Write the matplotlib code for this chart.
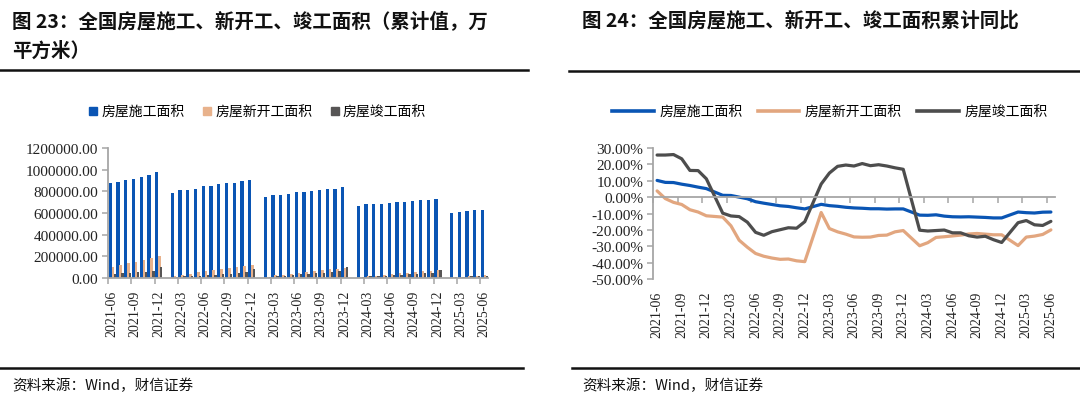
import numpy as np
import pandas as pd
import matplotlib
matplotlib.use("Agg")
import matplotlib.pyplot as plt
from matplotlib.lines import Line2D

plt.rcParams['font.family'] = ['Noto Sans CJK SC', 'DejaVu Sans']

nan = np.nan

# ---------------- data ----------------
months = list(pd.period_range('2021-06', '2025-06', freq='M').strftime('%Y-%m'))
tick_labels = ["2021-06", "2021-09", "2021-12", "2022-03", "2022-06", "2022-09",
               "2022-12", "2023-03", "2023-06", "2023-09", "2023-12", "2024-03",
               "2024-06", "2024-09", "2024-12", "2025-03", "2025-06"]
series_names = ["房屋施工面积", "房屋新开工面积", "房屋竣工面积"]

# cumulative area, 10k m2 (January not published)
construction = [873251, 890000, 904000, 917000, 931000, 947000, 975387,
                nan, 782000, 808000, 812000, 826000, 848000, 853000, 864000, 878000, 881000, 891000, 904999,
                nan, 751000, 764000, 767000, 777000, 791548, 794000, 804000, 815688, 820000, 826000, 838364,
                nan, 668000, 680000, 682000, 685000, 695000, 698000, 703000, 710000, 716000, 721000, 733247,
                nan, 600000, 612000, 614000, 625000, 627000]
new_starts = [101288, 117000, 134000, 148000, 162000, 182000, 198895,
              nan, 17000, 29638, 39000, 51000, 66423, 76000, 85000, 94767, 103000, 111000, 120587,
              nan, 13000, 24000, 31000, 39000, 49880, 56000, 63000, 72123, 79000, 86000, 95376,
              nan, 9429, 17000, 23000, 30000, 38023, 43000, 49000, 56051, 61000, 66000, 73893,
              nan, 6500, 13000, 18000, 23000, 30364]
completed = [36000, 42000, 47000, 51000, 56000, 65000, 101412,
             nan, 12000, 17000, 20000, 23000, 28000, 32000, 36000, 41000, 46000, 52000, 86222,
             nan, 13000, 19000, 23000, 27000, 33000, 38000, 43000, 48705, 55000, 62000, 99831,
             nan, 10000, 15000, 18000, 22000, 26000, 30000, 33000, 36000, 42000, 46000, 73743,
             nan, 8000, 13000, 15000, 18000, 22567]

# cumulative YoY, %
construction_yoy = [10.2, 9.0, 8.9, 7.9, 7.1, 6.1, 5.2,
                    nan, 1.1, 1.0, 0.0, -1.0, -2.8, -3.7, -4.5, -5.3, -5.7, -6.5, -7.2,
                    nan, -4.4, -5.2, -5.6, -6.2, -6.6, -6.8, -7.1, -7.1, -7.3, -7.2, -7.2,
                    nan, -11.0, -11.1, -10.8, -11.6, -12.0, -12.1, -12.0, -12.2, -12.4, -12.7, -12.7,
                    nan, -9.1, -9.5, -9.7, -9.2, -9.1]
new_starts_yoy = [3.8, -0.9, -3.2, -4.5, -7.7, -9.1, -11.4,
                  nan, -12.2, -17.5, -26.3, -30.6, -34.4, -36.1, -37.2, -38.0, -37.8, -38.9, -39.4,
                  nan, -9.4, -19.2, -21.2, -22.6, -24.3, -24.5, -24.4, -23.4, -23.2, -21.2, -20.4,
                  nan, -29.7, -27.8, -24.6, -24.2, -23.7, -23.2, -22.5, -22.2, -22.6, -23.0, -23.0,
                  nan, -29.6, -24.4, -23.8, -22.8, -20.0]
completed_yoy = [25.7, 25.7, 26.0, 23.4, 16.3, 16.2, 11.2,
                 nan, -9.8, -11.5, -11.9, -15.3, -21.5, -23.3, -21.1, -19.9, -18.7, -19.0, -15.0,
                 nan, 8.0, 14.7, 18.8, 19.6, 19.0, 20.5, 19.2, 19.8, 19.0, 17.9, 17.0,
                 nan, -20.2, -20.7, -20.4, -20.1, -21.8, -21.8, -23.6, -24.4, -23.9, -26.0, -27.7,
                 nan, -15.6, -14.3, -16.9, -17.3, -14.8]

# ---------------- style ----------------
BLUE = '#0a55b4'
TAN = '#e8b28c'
TAN_LINE = '#e2a67f'
DARK = '#575555'
DARK_LINE = '#4d4d4d'
AXC = '#a6a6a6'
SERIF = 'Liberation Serif'
TXT = '#222222'

W, H = 1080, 414
fig = plt.figure(figsize=(W / 100, H / 100), dpi=100)


def fx(px):
    return px / W


def fy(py):
    return 1 - py / H


n = len(months)
x = np.arange(n)
major = np.array([months.index(t) for t in tick_labels])
minor = major - 0.5

# ---------------- left: bars ----------------
axh1 = 130
ax1 = fig.add_axes([fx(108), fy(279), fx(380), axh1 / H])
ax1.bar(x - 0.22, np.array(construction, float), 0.42, color=BLUE, label=series_names[0])
ax1.bar(x + 0.13, np.array(new_starts, float), 0.34, color=TAN, label=series_names[1])
ax1.bar(x + 0.36, np.array(completed, float), 0.30, color=DARK, label=series_names[2])
ax1.set_xlim(-0.5, n - 0.5)
ax1.set_ylim(0, 1200000)
yt1 = np.arange(0, 1200001, 200000)
ax1.set_yticks(yt1, [f"{v:.2f}" for v in yt1])
ax1.set_xticks(major, tick_labels, rotation=90)
ax1.set_xticks(minor, minor=True)
for s in ['top', 'right']:
    ax1.spines[s].set_visible(False)
for s in ['left', 'bottom']:
    ax1.spines[s].set_color(AXC)
    ax1.spines[s].set_linewidth(1.3)
ax1.tick_params(axis='x', which='major', length=0, pad=8.5, labelsize=10,
                labelfontfamily=SERIF, labelcolor=TXT)
ax1.tick_params(axis='x', which='minor', length=4, width=1.1, color=AXC, direction='out')
ax1.tick_params(axis='y', length=4, width=1.1, color=AXC, pad=3, labelsize=11,
                labelfontfamily=SERIF, labelcolor=TXT)

h1 = [Line2D([], [], marker='s', ls='none', color=c, markersize=5.5) for c in (BLUE, TAN, DARK)]
fig.legend(h1, series_names, loc='center left', bbox_to_anchor=(fx(89), fy(113)),
           ncol=3, frameon=False, fontsize=10, handlelength=0.6, handletextpad=0.3,
           columnspacing=1.3, borderpad=0, borderaxespad=0)

# ---------------- right: lines ----------------
axh2 = 131
ax2 = fig.add_axes([fx(653), fy(280), fx(402), axh2 / H])
ax2.spines['bottom'].set_position(('data', 0))
for vals, c, name in ((construction_yoy, BLUE, series_names[0]),
                      (new_starts_yoy, TAN_LINE, series_names[1]),
                      (completed_yoy, DARK_LINE, series_names[2])):
    v = np.array(vals, float)
    m = np.isfinite(v)
    ax2.plot(x[m], v[m], color=c, lw=2.3, solid_joinstyle='round', solid_capstyle='round', label=name)
ax2.set_xlim(-0.5, n - 0.5)
ax2.set_ylim(-50, 30)
yt2 = np.arange(-50, 31, 10)
ax2.set_yticks(yt2, [f"{v:.2f}%" for v in yt2])
ax2.set_xticks(major, tick_labels, rotation=90)
ax2.set_xticks(minor, minor=True)
for s in ['top', 'right']:
    ax2.spines[s].set_visible(False)
for s in ['left', 'bottom']:
    ax2.spines[s].set_color(AXC)
    ax2.spines[s].set_linewidth(1.3)
pad2 = (50 / 80 * axh2 + 11.5) * 72 / 100
ax2.tick_params(axis='x', which='major', length=0, pad=pad2, labelsize=10,
                labelfontfamily=SERIF, labelcolor=TXT)
ax2.tick_params(axis='x', which='minor', length=4, width=1.1, color=AXC, direction='out')
ax2.tick_params(axis='y', length=4, width=1.1, color=AXC, pad=3, labelsize=11,
                labelfontfamily=SERIF, labelcolor=TXT)

h2 = [Line2D([], [], color=c, lw=2.6) for c in (BLUE, TAN_LINE, DARK_LINE)]
fig.legend(h2, series_names, loc='center left', bbox_to_anchor=(fx(612), fy(113)),
           ncol=3, frameon=False, fontsize=10, handlelength=3.0, handletextpad=0.4,
           columnspacing=1.1, borderpad=0, borderaxespad=0)

# ---------------- titles, rules, sources ----------------
tkw = dict(fontsize=14, weight='bold', va='center', ha='left', color='#111111')
fig.text(fx(12), fy(21), "图 23：全国房屋施工、新开工、竣工面积（累计值，万", **tkw)
fig.text(fx(12), fy(51), "平方米）", **tkw)
fig.text(fx(582), fy(21), "图 24：全国房屋施工、新开工、竣工面积累计同比", **tkw)

for (x0, x1, yy) in ((0, 528, 71), (569, 1080, 72), (0, 523, 369), (572, 1080, 369)):
    fig.add_artist(Line2D([fx(x0), fx(x1)], [fy(yy), fy(yy)], color='#111111', lw=1.8))

skw = dict(fontsize=10.5, style='italic', va='center', ha='left', color='#111111')
fig.text(fx(12), fy(386), "资料来源：Wind，财信证券", **skw)
fig.text(fx(582), fy(386), "资料来源：Wind，财信证券", **skw)

fig.savefig("out.png", dpi=100)
